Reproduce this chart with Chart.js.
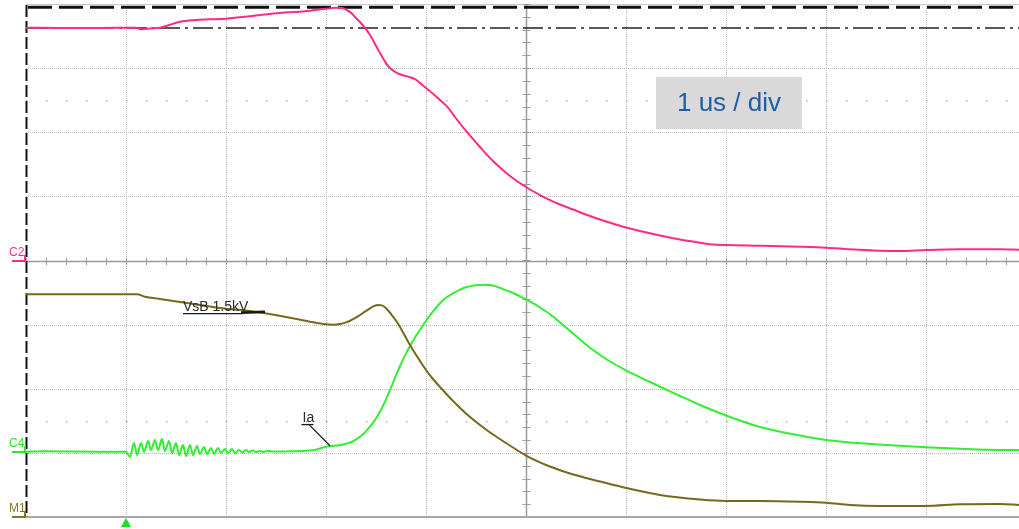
<!DOCTYPE html>
<html>
<head>
<meta charset="utf-8">
<script src="https://cdn.jsdelivr.net/npm/chart.js@4.4.1/dist/chart.umd.min.js"></script>
<style>
html,body{margin:0;padding:0;background:#fff;}
#wrap{position:relative;width:1019px;height:529px;overflow:hidden;}
canvas{display:block;}
</style>
</head>
<body>
<div id="wrap"><canvas id="c" width="1019" height="529"></canvas></div>
<script>
// ---- time base: microseconds (1 us / div), vertical: divisions ----
const pinkT = [-5.00,-4.66,-4.26,-3.91,-3.84,-3.76,-3.66,-3.56,-3.46,-3.31,-3.16,-3.00,-2.81,-2.66,-2.46,-2.26,-2.11,-2.00,-1.90,-1.84,-1.79,-1.75,-1.71,-1.66,-1.61,-1.56,-1.51,-1.46,-1.42,-1.38,-1.34,-1.31,-1.26,-1.21,-1.16,-1.11,-1.06,-1.00,-0.93,-0.86,-0.78,-0.71,-0.60,-0.46,-0.33,-0.16,0.00,0.14,0.24,0.34,0.47,0.64,0.80,1.00,1.14,1.34,1.54,1.74,1.84,2.00,2.34,2.74,3.00,3.24,3.54,3.74,4.00,4.34,4.74,4.93];
const pinkV = [3.630,3.626,3.626,3.630,3.605,3.618,3.630,3.677,3.724,3.750,3.761,3.771,3.802,3.828,3.860,3.880,3.906,3.927,3.940,3.936,3.905,3.862,3.797,3.719,3.626,3.517,3.376,3.236,3.127,3.033,2.975,2.942,2.905,2.880,2.860,2.828,2.770,2.690,2.600,2.503,2.385,2.238,2.020,1.770,1.552,1.318,1.146,1.021,0.943,0.873,0.795,0.694,0.608,0.515,0.460,0.390,0.327,0.278,0.253,0.242,0.231,0.215,0.200,0.175,0.153,0.148,0.164,0.175,0.175,0.168];

const oliveT = [-5.00,-3.89,-3.81,-3.66,-3.46,-3.26,-3.00,-2.76,-2.61,-2.36,-2.16,-2.00,-1.92,-1.86,-1.80,-1.76,-1.71,-1.66,-1.61,-1.56,-1.52,-1.48,-1.44,-1.41,-1.37,-1.33,-1.29,-1.26,-1.21,-1.16,-1.06,-1.00,-0.93,-0.86,-0.73,-0.60,-0.46,-0.33,-0.20,0.00,0.24,0.44,0.74,1.00,1.34,1.74,2.00,2.34,2.74,3.00,3.24,3.54,4.00,4.34,4.74,4.93];
const oliveV = [-0.527,-0.527,-0.565,-0.600,-0.647,-0.694,-0.752,-0.788,-0.823,-0.892,-0.954,-0.995,-1.000,-0.990,-0.965,-0.940,-0.900,-0.850,-0.797,-0.745,-0.712,-0.694,-0.700,-0.730,-0.795,-0.876,-0.960,-1.037,-1.177,-1.318,-1.567,-1.708,-1.848,-1.973,-2.191,-2.386,-2.565,-2.714,-2.846,-3.041,-3.213,-3.322,-3.446,-3.548,-3.657,-3.727,-3.750,-3.750,-3.761,-3.777,-3.813,-3.828,-3.828,-3.802,-3.797,-3.813];

const greenT = [-5.00,-4.81,-4.26,-4.00,-3.96,-3.92,-3.89,-3.85,-3.82,-3.78,-3.75,-3.71,-3.68,-3.64,-3.61,-3.57,-3.54,-3.50,-3.47,-3.43,-3.40,-3.36,-3.33,-3.29,-3.26,-3.22,-3.19,-3.15,-3.12,-3.08,-3.05,-3.01,-2.98,-2.94,-2.91,-2.87,-2.84,-2.80,-2.77,-2.73,-2.70,-2.66,-2.63,-2.59,-2.51,-2.26,-2.11,-2.00,-1.86,-1.76,-1.71,-1.66,-1.61,-1.56,-1.51,-1.46,-1.41,-1.36,-1.31,-1.26,-1.21,-1.16,-1.11,-1.06,-1.00,-0.93,-0.86,-0.80,-0.73,-0.66,-0.60,-0.53,-0.46,-0.41,-0.36,-0.31,-0.26,-0.13,0.00,0.14,0.27,0.40,0.54,0.67,0.80,1.00,1.24,1.40,1.54,1.74,2.00,2.34,2.74,3.00,3.34,3.74,4.00,4.34,4.74,4.93];
const greenV = [-2.982,-2.975,-2.982,-2.982,-3.064,-2.846,-3.033,-2.846,-2.986,-2.815,-2.955,-2.799,-2.955,-2.783,-2.971,-2.815,-3.002,-2.846,-3.033,-2.877,-3.049,-2.877,-3.033,-2.893,-3.018,-2.908,-3.018,-2.924,-3.018,-2.924,-3.002,-2.939,-3.002,-2.939,-3.002,-2.955,-2.994,-2.955,-2.986,-2.963,-2.986,-2.971,-2.986,-2.971,-2.978,-2.971,-2.955,-2.904,-2.877,-2.841,-2.800,-2.748,-2.680,-2.592,-2.490,-2.358,-2.200,-2.020,-1.830,-1.645,-1.480,-1.333,-1.200,-1.084,-0.940,-0.795,-0.667,-0.580,-0.512,-0.455,-0.418,-0.392,-0.382,-0.378,-0.382,-0.400,-0.429,-0.507,-0.608,-0.733,-0.873,-1.045,-1.232,-1.396,-1.536,-1.715,-1.895,-2.012,-2.113,-2.253,-2.417,-2.596,-2.729,-2.799,-2.851,-2.888,-2.912,-2.937,-2.955,-2.955];

const gridX = [-4,-3,-2,-1,1,2,3,4];
const gridY = [-3,-2,-1,1,2,3];
const dotRows = [2.5,-2.5];
const cursorLevels = [3.949, 3.626];   // dashed, dash-dot
const channelNames = ['C2','C4','M1'];
const channelLevels = [0, -2.982, -4];
const channelColors = ['#ff2a88','#2ee62e','#857520'];
const triggerTime = -4;
const timeBaseLabel = '1 us / div';
const annVsB = 'VsB 1.5kV';
const annIa = 'Ia';

const toXY = (t,v) => t.map((tt,i)=>({x:tt,y:v[i]}));

const scopePlugin = {
  id:'scope',
  beforeDatasetsDraw(chart){
    const {ctx, chartArea:a, scales:{x,y}} = chart;
    ctx.save();
    ctx.strokeStyle = '#bcbcbc';
    ctx.lineWidth = 1;
    ctx.setLineDash([1,1]);
    gridX.forEach(t=>{
      const px = Math.round(x.getPixelForValue(t))+0.5;
      ctx.beginPath(); ctx.moveTo(px,a.top); ctx.lineTo(px,a.bottom); ctx.stroke();
    });
    gridY.forEach(v=>{
      const py = Math.round(y.getPixelForValue(v))+0.5;
      ctx.beginPath(); ctx.moveTo(a.left,py); ctx.lineTo(a.right,py); ctx.stroke();
    });
    ctx.setLineDash([]);
    ctx.fillStyle = '#b0b0b0';
    dotRows.forEach(v=>{
      const py = Math.round(y.getPixelForValue(v));
      for(let t=-5; t<=5; t+=0.2){
        const px = Math.round(x.getPixelForValue(t));
        ctx.fillRect(px, py, 1.5, 1.5);
      }
    });
    ctx.strokeStyle = '#c8c8c8';
    ctx.lineWidth = 1;
    ctx.beginPath(); ctx.moveTo(a.left, a.top+0.5); ctx.lineTo(a.right, a.top+0.5); ctx.stroke();
    const cx = Math.round(x.getPixelForValue(0))+0.5;
    const cy = Math.round(y.getPixelForValue(0))+0.5;
    ctx.strokeStyle = '#9a9a9a';
    ctx.lineWidth = 1.5;
    ctx.beginPath(); ctx.moveTo(cx,a.top); ctx.lineTo(cx,a.bottom); ctx.stroke();
    ctx.beginPath(); ctx.moveTo(a.left,cy); ctx.lineTo(a.right,cy); ctx.stroke();
    ctx.lineWidth = 1;
    for(let t=-5; t<=5.01; t+=0.2){
      const px = Math.round(x.getPixelForValue(t))+0.5;
      ctx.beginPath(); ctx.moveTo(px,cy-3.5); ctx.lineTo(px,cy+3.5); ctx.stroke();
    }
    for(let v=-4; v<=4.01; v+=0.2){
      const py = Math.round(y.getPixelForValue(v))+0.5;
      ctx.beginPath(); ctx.moveTo(cx-4,py); ctx.lineTo(cx+4,py); ctx.stroke();
    }
    ctx.strokeStyle = '#a8a8a8';
    ctx.lineWidth = 2;
    ctx.beginPath(); ctx.moveTo(a.left, a.bottom); ctx.lineTo(a.right, a.bottom); ctx.stroke();
    ctx.strokeStyle = '#111';
    ctx.lineWidth = 3;
    ctx.setLineDash([24,7]);
    let py = y.getPixelForValue(cursorLevels[0]);
    ctx.beginPath(); ctx.moveTo(a.left+2, py); ctx.lineTo(a.right, py); ctx.stroke();
    ctx.strokeStyle = '#222';
    ctx.lineWidth = 1.6;
    ctx.setLineDash([20,5,3,5]);
    py = y.getPixelForValue(cursorLevels[1]);
    ctx.beginPath(); ctx.moveTo(a.left+2, py); ctx.lineTo(a.right, py); ctx.stroke();
    ctx.strokeStyle = '#111';
    ctx.lineWidth = 2;
    ctx.setLineDash([12,4]);
    const lx = a.left+0.5;
    ctx.beginPath(); ctx.moveTo(lx, a.top+1); ctx.lineTo(lx, a.bottom); ctx.stroke();
    ctx.restore();
  },
  afterDraw(chart){
    const {ctx, chartArea:a, scales:{x,y}} = chart;
    ctx.save();
    ctx.setLineDash([]);
    ctx.font = '12px "Liberation Sans", Arial, sans-serif';
    ctx.textBaseline = 'alphabetic';
    channelNames.forEach((n,i)=>{
      const py = Math.round(y.getPixelForValue(channelLevels[i]));
      ctx.fillStyle = channelColors[i];
      ctx.fillText(n, 9, py-5);
      ctx.fillRect(12, py-1, 14, 2);
      ctx.fillRect(24, py-6, 2, 6);
    });
    const tx = x.getPixelForValue(triggerTime);
    ctx.fillStyle = '#22dd22';
    ctx.beginPath();
    ctx.moveTo(tx, a.bottom+1); ctx.lineTo(tx+5, a.bottom+10); ctx.lineTo(tx-5, a.bottom+10); ctx.closePath(); ctx.fill();
    const bx0 = x.getPixelForValue(1.30), bx1 = x.getPixelForValue(2.76);
    const by0 = y.getPixelForValue(2.862), by1 = y.getPixelForValue(2.051);
    ctx.fillStyle = '#d9d9d9';
    ctx.fillRect(bx0, by0, bx1-bx0, by1-by0);
    ctx.fillStyle = '#1f5ca6';
    ctx.font = '26px "Liberation Sans", Arial, sans-serif';
    ctx.textAlign = 'center';
    ctx.textBaseline = 'middle';
    ctx.fillText(timeBaseLabel, (bx0+bx1)/2, (by0+by1)/2+1);
    ctx.textAlign = 'left';
    ctx.textBaseline = 'alphabetic';
    ctx.fillStyle = '#2a2a2a';
    ctx.font = '14px "Liberation Sans", Arial, sans-serif';
    const vx = x.getPixelForValue(-3.43), vy = y.getPixelForValue(-0.79);
    ctx.fillText(annVsB, vx, vy);
    ctx.strokeStyle = '#1a1a1a';
    ctx.lineWidth = 1.3;
    ctx.beginPath(); ctx.moveTo(vx, vy+2.5); ctx.lineTo(vx+60, vy+2.5); ctx.stroke();
    ctx.lineWidth = 2.8;
    ctx.beginPath(); ctx.moveTo(vx+58, vy+1.5); ctx.lineTo(x.getPixelForValue(-2.61), y.getPixelForValue(-0.80)); ctx.stroke();
    const ix = x.getPixelForValue(-2.235), iy = y.getPixelForValue(-2.52);
    ctx.fillText(annIa, ix, iy);
    ctx.lineWidth = 1.3;
    ctx.beginPath(); ctx.moveTo(ix-1, iy+2.5); ctx.lineTo(ix+11, iy+2.5); ctx.stroke();
    ctx.beginPath(); ctx.moveTo(ix+7, iy+3); ctx.lineTo(x.getPixelForValue(-1.96), y.getPixelForValue(-2.89)); ctx.stroke();
    ctx.restore();
  }
};

new Chart(document.getElementById('c'), {
  type:'line',
  data:{
    datasets:[
      {label:'C2', data:toXY(pinkT,pinkV), borderColor:'#ff2a88', borderWidth:2, pointRadius:0, cubicInterpolationMode:'monotone'},
      {label:'M1 VsB', data:toXY(oliveT,oliveV), borderColor:'#77691c', borderWidth:2, pointRadius:0, cubicInterpolationMode:'monotone'},
      {label:'C4 Ia', data:toXY(greenT,greenV), borderColor:'#33ee33', borderWidth:2, pointRadius:0, cubicInterpolationMode:'monotone'}
    ]
  },
  options:{
    responsive:false,
    devicePixelRatio:1,
    animation:false,
    layout:{padding:{left:26,top:4,right:0,bottom:12}},
    plugins:{legend:{display:false}, tooltip:{enabled:false}},
    scales:{
      x:{type:'linear', min:-5, max:4.93, display:false},
      y:{type:'linear', min:-4, max:4, display:false}
    }
  },
  plugins:[scopePlugin]
});
</script>
</body>
</html>
